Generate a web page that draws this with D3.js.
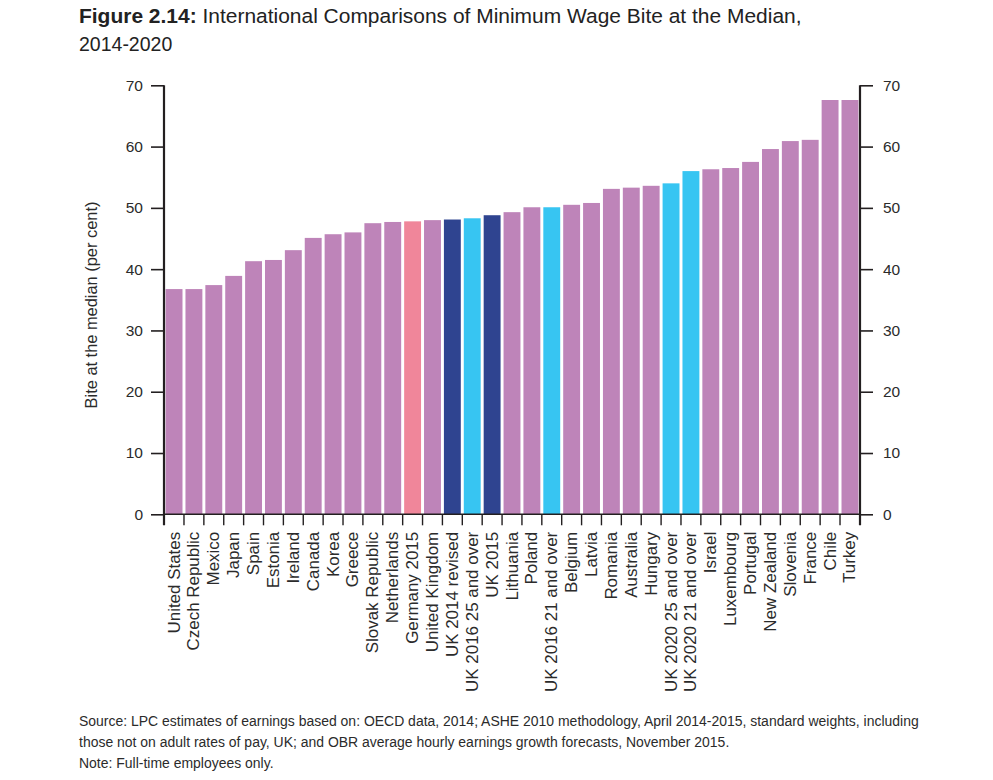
<!DOCTYPE html>
<html>
<head>
<meta charset="utf-8">
<script src="https://cdn.jsdelivr.net/npm/d3@7"></script>
<style>
  html, body { margin: 0; padding: 0; background: #fff; }
  svg { display: block; font-family: "Liberation Sans", Arial, Helvetica, sans-serif; }
</style>
</head>
<body>
<svg id="chart" width="993" height="780"></svg>
<script>
const categories = ["United States","Czech Republic","Mexico","Japan","Spain","Estonia","Ireland","Canada","Korea","Greece","Slovak Republic","Netherlands","Germany 2015","United Kingdom","UK 2014 revised","UK 2016 25 and over","UK 2015","Lithuania","Poland","UK 2016 21 and over","Belgium","Latvia","Romania","Australia","Hungary","UK 2020 25 and over","UK 2020 21 and over","Israel","Luxembourg","Portugal","New Zealand","Slovenia","France","Chile","Turkey"];
const values = [36.75,36.75,37.4,38.9,41.3,41.5,43.1,45.1,45.7,46.0,47.5,47.7,47.8,48.0,48.1,48.3,48.8,49.3,50.1,50.1,50.5,50.8,53.1,53.3,53.6,54.0,56.0,56.3,56.5,57.5,59.6,60.9,61.1,67.6,67.6];
// group: 0 = other countries, 1 = Germany, 2 = UK actual, 3 = UK forecast
const groups = [0,0,0,0,0,0,0,0,0,0,0,0,1,0,2,3,2,0,0,3,0,0,0,0,0,3,3,0,0,0,0,0,0,0,0];
const groupColors = ["#BE84B9","#F0869A","#2F4490","#37C5F2"];
const yTicks = [0,10,20,30,40,50,60,70];
const titleBold = "Figure 2.14:";
const titleRest = " International Comparisons of Minimum Wage Bite at the Median,";
const titleLine2 = "2014-2020";
const yLabel = "Bite at the median (per cent)";
const footerLines = [
  "Source: LPC estimates of earnings based on: OECD data, 2014; ASHE 2010 methodology, April 2014-2015, standard weights, including",
  "those not on adult rates of pay, UK; and OBR average hourly earnings growth forecasts, November 2015.",
  "Note: Full-time employees only."
];

const svg = d3.select("#chart");
const pLeft = 164, pRight = 860, pTop = 85.3, pBottom = 514.3;
const axisColor = "#231F20";
const textColor = "#2b2b2b";

const x = d3.scaleBand().domain(categories).range([pLeft, pRight]).paddingInner(0.15).paddingOuter(0.08);
const y = d3.scaleLinear().domain([0, 70]).range([pBottom, pTop]);

// Title (line 1 stretched to reference width)
const tg = svg.append("g");
const title = tg.append("text").attr("x", 0).attr("y", 0).attr("font-size", 19.5).attr("fill", "#222");
title.append("tspan").attr("font-weight", "bold").text(titleBold);
title.append("tspan").text(titleRest);
const tw = title.node().getComputedTextLength();
tg.attr("transform", `translate(79,22.5) scale(${723 / tw},1)`);
svg.append("text").attr("x", 79).attr("y", 50.5).attr("font-size", 19.5).attr("fill", "#222").text(titleLine2);

// Bars
svg.append("g").selectAll("rect").data(categories).join("rect")
  .attr("x", d => x(d))
  .attr("width", x.bandwidth())
  .attr("y", (d, i) => y(values[i]))
  .attr("height", (d, i) => y(0) - y(values[i]))
  .attr("fill", (d, i) => groupColors[groups[i]]);

// Left axis
const yAxisL = d3.axisLeft(y).tickValues(yTicks).tickSize(13).tickPadding(8).tickFormat(d3.format("d"));
const gL = svg.append("g").attr("transform", `translate(${pLeft},0)`).call(yAxisL);
// Right axis
const yAxisR = d3.axisRight(y).tickValues(yTicks).tickSize(13).tickPadding(10).tickFormat(d3.format("d"));
const gR = svg.append("g").attr("transform", `translate(${pRight},0)`).call(yAxisR);
[gL, gR].forEach(g => {
  g.select(".domain").remove();
  g.selectAll(".tick line").attr("stroke", axisColor).attr("stroke-width", 1.6);
  g.selectAll(".tick text").attr("font-size", 15.5).attr("fill", textColor)
    .attr("font-family", "'Liberation Sans', Arial, sans-serif");
});
// vertical axis lines
svg.append("line").attr("x1", pLeft).attr("x2", pLeft).attr("y1", pTop).attr("y2", pBottom + 11)
  .attr("stroke", axisColor).attr("stroke-width", 2.2);
svg.append("line").attr("x1", pRight).attr("x2", pRight).attr("y1", pTop).attr("y2", pBottom + 11)
  .attr("stroke", axisColor).attr("stroke-width", 2.2);
// baseline
svg.append("line").attr("x1", pLeft).attr("x2", pRight).attr("y1", pBottom).attr("y2", pBottom)
  .attr("stroke", axisColor).attr("stroke-width", 1.6);

// Bottom category ticks at band boundaries
const half = x.step() * x.paddingInner() / 2;
const boundaries = categories.slice(1).map(c => x(c) - half);
svg.append("g").selectAll("line").data(boundaries).join("line")
  .attr("x1", d => d).attr("x2", d => d).attr("y1", pBottom).attr("y2", pBottom + 11)
  .attr("stroke", axisColor).attr("stroke-width", 1.4);

// Category labels
svg.append("g").selectAll("text").data(categories).join("text")
  .attr("transform", d => `translate(${x(d) + x.bandwidth() / 2 + 5.5},${pBottom + 17.5}) rotate(-90) scale(1.06,1)`)
  .attr("text-anchor", "end")
  .attr("font-size", 16)
  .attr("fill", textColor)
  .text(d => d);

// Y label
const yl = svg.append("text")
  .attr("text-anchor", "middle")
  .attr("font-size", 16)
  .attr("fill", textColor)
  .text(yLabel);
const ylw = yl.node().getComputedTextLength();
yl.attr("transform", `translate(96.5,305) rotate(-90) scale(${207 / ylw},1)`);

// Footer (condensed)
const fg = svg.append("g");
const ft = fg.selectAll("text").data(footerLines).join("text")
  .attr("x", 0).attr("y", (d, i) => i * 21.5)
  .attr("font-size", 15.5)
  .attr("fill", textColor)
  .text(d => d);
const w0 = ft.nodes()[0].getComputedTextLength();
fg.attr("transform", `translate(79,725.5) scale(${840 / w0},1)`);
</script>
</body>
</html>
